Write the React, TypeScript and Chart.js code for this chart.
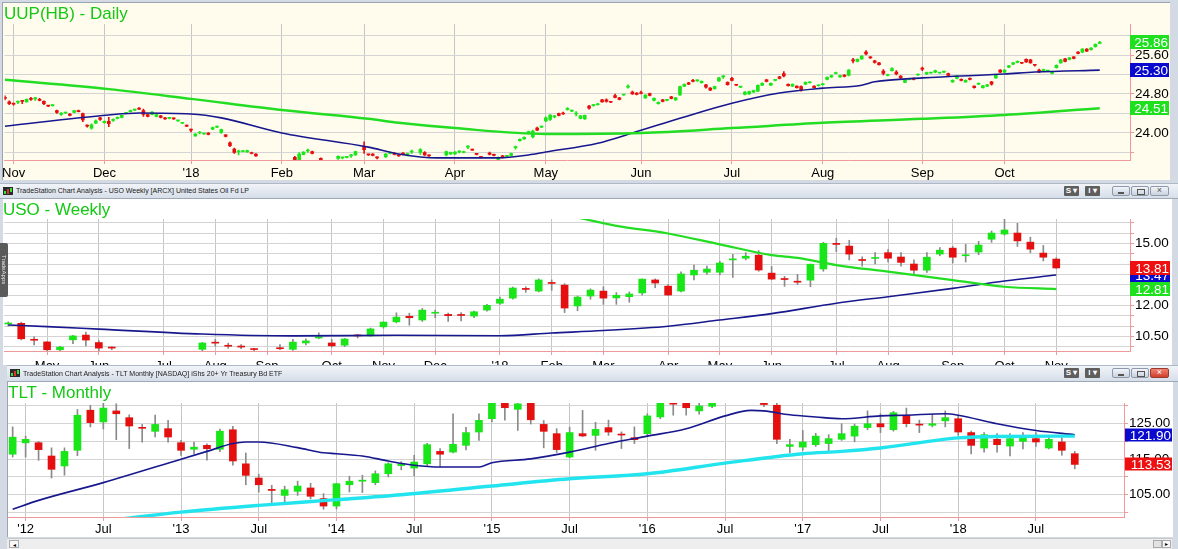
import React, { useEffect, useRef } from 'react';
import { Chart, registerables } from 'chart.js';

Chart.register(...registerables);

const FONT = '"Liberation Sans", Arial, Helvetica, sans-serif';
const UP = '#19E619';
const DN = '#E60F0F';
const AXIS_RED = '#EE9A9A';
const HGRID = '#D4D4D4';
const VGRID = '#C6C6C6';
const TITLE_GREEN = '#14C814';

type Bar = [number, number, number, number, number]; // bar index, open, high, low, close
type Pt = [number, number]; // bar index, value

// ---------------- UUP daily ----------------
const uupBars: Bar[] = [
  [-2, 24.73, 24.76, 24.68, 24.71], [-1, 24.64, 24.66, 24.58, 24.60], [0, 24.60, 24.62, 24.57, 24.59],
  [1, 24.63, 24.66, 24.60, 24.64], [2, 24.66, 24.67, 24.60, 24.65], [3, 24.64, 24.70, 24.63, 24.69],
  [4, 24.71, 24.73, 24.67, 24.69], [5, 24.70, 24.73, 24.67, 24.71], [6, 24.69, 24.71, 24.66, 24.67],
  [7, 24.65, 24.66, 24.58, 24.60], [8, 24.56, 24.57, 24.54, 24.55], [9, 24.56, 24.58, 24.55, 24.57],
  [10, 24.46, 24.47, 24.40, 24.42], [11, 24.38, 24.42, 24.36, 24.41], [12, 24.41, 24.43, 24.40, 24.42],
  [13, 24.39, 24.40, 24.35, 24.36], [14, 24.42, 24.46, 24.41, 24.46], [15, 24.46, 24.47, 24.43, 24.44],
  [16, 24.40, 24.41, 24.23, 24.27], [17, 24.15, 24.17, 24.12, 24.14], [18, 24.10, 24.19, 24.08, 24.17],
  [19, 24.20, 24.27, 24.19, 24.25], [20, 24.31, 24.32, 24.26, 24.28], [21, 24.21, 24.25, 24.20, 24.24],
  [22, 24.24, 24.32, 24.13, 24.19], [23, 24.26, 24.29, 24.24, 24.27], [24, 24.30, 24.33, 24.29, 24.32],
  [25, 24.32, 24.37, 24.31, 24.36], [26, 24.40, 24.42, 24.39, 24.41], [27, 24.44, 24.47, 24.43, 24.46],
  [28, 24.47, 24.49, 24.46, 24.48], [29, 24.50, 24.52, 24.48, 24.49], [30, 24.46, 24.49, 24.34, 24.38],
  [31, 24.38, 24.39, 24.33, 24.34], [32, 24.38, 24.44, 24.37, 24.43], [33, 24.34, 24.39, 24.33, 24.38],
  [34, 24.35, 24.36, 24.31, 24.32], [35, 24.31, 24.32, 24.28, 24.29], [36, 24.30, 24.32, 24.29, 24.31],
  [37, 24.30, 24.31, 24.28, 24.29], [38, 24.25, 24.26, 24.24, 24.26], [39, 24.20, 24.22, 24.19, 24.21],
  [40, 24.15, 24.16, 24.13, 24.14], [41, 24.07, 24.08, 24.02, 24.06], [42, 23.94, 23.99, 23.93, 23.98],
  [43, 24.00, 24.03, 23.98, 24.01], [44, 23.98, 24.00, 23.97, 23.99], [45, 24.00, 24.01, 23.96, 23.97],
  [46, 24.08, 24.12, 24.07, 24.11], [47, 24.12, 24.14, 24.11, 24.13], [48, 24.01, 24.08, 23.99, 24.07],
  [49, 23.96, 23.97, 23.92, 23.93], [50, 23.80, 23.82, 23.72, 23.74], [51, 23.67, 23.69, 23.58, 23.60],
  [52, 23.61, 23.65, 23.55, 23.62], [53, 23.62, 23.64, 23.61, 23.63], [54, 23.61, 23.65, 23.60, 23.64],
  [55, 23.60, 23.61, 23.57, 23.58], [56, 23.57, 23.58, 23.52, 23.53],
  [65, 23.50, 23.52, 23.40, 23.44], [66, 23.44, 23.60, 23.42, 23.57], [67, 23.56, 23.62, 23.55, 23.61],
  [68, 23.63, 23.67, 23.60, 23.64], [69, 23.62, 23.63, 23.57, 23.58], [71, 23.48, 23.49, 23.40, 23.44],
  [75, 23.48, 23.53, 23.46, 23.52], [76, 23.49, 23.50, 23.47, 23.50], [77, 23.50, 23.52, 23.49, 23.51],
  [78, 23.53, 23.56, 23.50, 23.54], [79, 23.55, 23.63, 23.54, 23.62], [81, 23.72, 23.82, 23.58, 23.66],
  [82, 23.56, 23.57, 23.54, 23.55], [83, 23.57, 23.58, 23.53, 23.54], [84, 23.50, 23.51, 23.47, 23.49],
  [86, 23.51, 23.58, 23.50, 23.57], [87, 23.58, 23.60, 23.57, 23.59], [88, 23.59, 23.60, 23.55, 23.56],
  [89, 23.54, 23.55, 23.52, 23.53], [90, 23.59, 23.60, 23.55, 23.56], [91, 23.54, 23.59, 23.53, 23.58],
  [92, 23.61, 23.65, 23.58, 23.62], [94, 23.60, 23.68, 23.56, 23.66], [95, 23.60, 23.62, 23.54, 23.55],
  [96, 23.54, 23.55, 23.52, 23.53], [100, 23.55, 23.63, 23.53, 23.62], [101, 23.57, 23.61, 23.56, 23.60],
  [102, 23.57, 23.62, 23.56, 23.61], [103, 23.61, 23.64, 23.59, 23.62], [104, 23.60, 23.63, 23.59, 23.62],
  [105, 23.71, 23.74, 23.68, 23.72], [106, 23.66, 23.67, 23.64, 23.65], [107, 23.57, 23.58, 23.55, 23.56],
  [108, 23.51, 23.52, 23.49, 23.50], [110, 23.59, 23.61, 23.55, 23.56], [111, 23.56, 23.57, 23.53, 23.54],
  [112, 23.46, 23.51, 23.44, 23.50], [113, 23.53, 23.54, 23.49, 23.50], [114, 23.52, 23.54, 23.51, 23.53],
  [115, 23.54, 23.59, 23.53, 23.58], [116, 23.70, 23.73, 23.67, 23.71], [117, 23.84, 23.88, 23.83, 23.87],
  [118, 23.88, 23.92, 23.87, 23.91], [119, 23.99, 24.04, 23.98, 24.03], [120, 23.92, 24.06, 23.90, 24.04],
  [121, 24.10, 24.12, 24.05, 24.06], [122, 24.12, 24.14, 24.11, 24.13], [123, 24.25, 24.33, 24.23, 24.31],
  [124, 24.28, 24.38, 24.26, 24.37], [125, 24.33, 24.36, 24.31, 24.34], [126, 24.40, 24.41, 24.35, 24.36],
  [127, 24.41, 24.43, 24.38, 24.39], [128, 24.48, 24.52, 24.47, 24.49], [129, 24.45, 24.47, 24.44, 24.46],
  [130, 24.39, 24.44, 24.35, 24.40], [131, 24.30, 24.36, 24.29, 24.35], [132, 24.29, 24.37, 24.28, 24.36],
  [133, 24.55, 24.57, 24.49, 24.51], [134, 24.56, 24.59, 24.55, 24.57], [135, 24.58, 24.61, 24.57, 24.60],
  [136, 24.68, 24.69, 24.63, 24.64], [137, 24.68, 24.70, 24.63, 24.65], [138, 24.64, 24.65, 24.62, 24.63],
  [139, 24.77, 24.80, 24.72, 24.73], [140, 24.72, 24.73, 24.68, 24.69], [141, 24.78, 24.79, 24.77, 24.79],
  [142, 24.94, 24.99, 24.92, 24.96], [143, 24.84, 24.86, 24.79, 24.80], [144, 24.82, 24.83, 24.78, 24.79],
  [145, 24.82, 24.86, 24.80, 24.81], [146, 24.72, 24.79, 24.71, 24.78], [147, 24.81, 24.82, 24.76, 24.77],
  [148, 24.67, 24.72, 24.66, 24.71], [149, 24.60, 24.64, 24.59, 24.63], [150, 24.68, 24.69, 24.64, 24.65],
  [151, 24.67, 24.69, 24.66, 24.68], [152, 24.74, 24.75, 24.70, 24.71], [153, 24.68, 24.73, 24.67, 24.72],
  [154, 24.78, 24.96, 24.77, 24.95], [155, 24.96, 25.01, 24.95, 25.00], [156, 25.03, 25.04, 24.99, 25.00],
  [157, 25.08, 25.10, 25.05, 25.06], [158, 25.07, 25.09, 25.06, 25.08], [159, 25.03, 25.07, 25.02, 25.06],
  [160, 24.99, 25.00, 24.92, 24.94], [161, 24.92, 24.93, 24.87, 24.88], [162, 24.91, 24.96, 24.90, 24.95],
  [163, 25.07, 25.14, 25.06, 25.13], [164, 25.15, 25.18, 25.12, 25.16], [165, 25.04, 25.05, 24.98, 24.99],
  [166, 25.12, 25.14, 25.07, 25.08], [167, 24.99, 25.00, 24.97, 24.98], [168, 24.94, 24.95, 24.93, 24.95],
  [169, 24.79, 24.85, 24.78, 24.84], [170, 24.80, 24.86, 24.79, 24.85], [171, 24.84, 24.88, 24.83, 24.87],
  [172, 24.86, 24.99, 24.85, 24.98], [173, 24.98, 25.03, 24.97, 25.02], [174, 25.09, 25.10, 25.05, 25.06],
  [175, 24.98, 25.03, 24.97, 25.02], [176, 25.08, 25.10, 25.07, 25.09], [177, 25.15, 25.16, 25.11, 25.12],
  [178, 25.22, 25.26, 25.15, 25.17], [179, 25.00, 25.01, 24.96, 24.97], [180, 24.96, 25.01, 24.95, 25.00],
  [181, 24.96, 24.97, 24.92, 24.93], [182, 24.95, 24.97, 24.86, 24.89], [183, 25.00, 25.05, 24.99, 25.04],
  [184, 25.03, 25.05, 25.02, 25.04], [185, 24.96, 24.97, 24.92, 24.93], [186, 24.97, 24.99, 24.96, 24.98],
  [187, 24.99, 25.02, 24.98, 25.01], [188, 25.10, 25.15, 25.09, 25.14], [189, 25.15, 25.19, 25.14, 25.18],
  [190, 25.22, 25.25, 25.21, 25.23], [191, 25.15, 25.19, 25.14, 25.18], [192, 25.19, 25.20, 25.15, 25.16],
  [193, 25.18, 25.30, 25.17, 25.29], [194, 25.49, 25.53, 25.44, 25.48], [195, 25.47, 25.52, 25.46, 25.51],
  [196, 25.52, 25.59, 25.51, 25.58], [197, 25.66, 25.69, 25.60, 25.62], [198, 25.55, 25.57, 25.53, 25.54],
  [199, 25.48, 25.49, 25.43, 25.45], [200, 25.44, 25.45, 25.39, 25.40], [201, 25.27, 25.30, 25.19, 25.22],
  [202, 25.18, 25.21, 25.17, 25.20], [203, 25.28, 25.34, 25.27, 25.32], [204, 25.25, 25.28, 25.19, 25.21],
  [205, 25.17, 25.18, 25.12, 25.13], [206, 25.04, 25.10, 25.03, 25.09], [207, 25.10, 25.12, 25.09, 25.11],
  [208, 25.12, 25.13, 25.09, 25.10], [209, 25.19, 25.21, 25.18, 25.20], [210, 25.32, 25.35, 25.28, 25.31],
  [211, 25.21, 25.25, 25.20, 25.24], [212, 25.23, 25.24, 25.22, 25.24], [213, 25.25, 25.29, 25.24, 25.28],
  [214, 25.23, 25.24, 25.22, 25.24], [215, 25.25, 25.26, 25.24, 25.26], [216, 25.22, 25.23, 25.17, 25.18],
  [217, 25.05, 25.09, 25.04, 25.08], [218, 25.12, 25.18, 25.11, 25.17], [219, 25.10, 25.11, 25.07, 25.08],
  [220, 25.05, 25.09, 25.04, 25.08], [221, 25.12, 25.13, 25.09, 25.10], [222, 24.96, 24.97, 24.92, 24.93],
  [223, 25.00, 25.03, 24.99, 25.01], [224, 24.93, 24.98, 24.92, 24.97], [225, 24.96, 25.00, 24.95, 24.99],
  [226, 25.05, 25.06, 24.98, 25.00], [227, 25.13, 25.20, 25.12, 25.19], [228, 25.29, 25.30, 25.24, 25.25],
  [229, 25.25, 25.30, 25.24, 25.29], [230, 25.35, 25.39, 25.34, 25.38], [231, 25.41, 25.45, 25.40, 25.44],
  [232, 25.45, 25.48, 25.44, 25.46], [233, 25.44, 25.45, 25.42, 25.43], [234, 25.51, 25.52, 25.45, 25.46],
  [235, 25.50, 25.51, 25.43, 25.44], [236, 25.40, 25.41, 25.37, 25.39], [237, 25.29, 25.31, 25.24, 25.25],
  [238, 25.27, 25.31, 25.26, 25.30], [239, 25.27, 25.28, 25.26, 25.28], [240, 25.22, 25.27, 25.21, 25.26],
  [241, 25.34, 25.40, 25.33, 25.39], [242, 25.44, 25.51, 25.43, 25.50], [243, 25.52, 25.53, 25.46, 25.47],
  [244, 25.51, 25.55, 25.50, 25.54], [245, 25.56, 25.57, 25.52, 25.53], [246, 25.66, 25.67, 25.62, 25.63],
  [247, 25.66, 25.73, 25.65, 25.72], [248, 25.72, 25.73, 25.67, 25.68], [249, 25.71, 25.75, 25.70, 25.74],
  [250, 25.77, 25.83, 25.76, 25.82], [251, 25.84, 25.88, 25.83, 25.86],
];
const uupMaSlow: Pt[] = [
  [-2, 25.09], [22, 24.90], [41, 24.70], [62, 24.47], [82, 24.29], [89, 24.21], [102, 24.10], [123, 23.98],
  [145, 24.0], [166, 24.10], [187, 24.21], [210, 24.29], [229, 24.37], [251, 24.51],
];
const uupMaFast: Pt[] = [
  [-2, 24.14], [22, 24.37], [29, 24.41], [41, 24.39], [48, 24.31], [62, 24.0], [82, 23.71], [89, 23.57],
  [98, 23.49], [112, 23.49], [119, 23.55], [123, 23.61], [135, 23.79], [143, 24.0], [155, 24.33],
  [166, 24.61], [177, 24.82], [187, 24.92], [196, 24.98], [199, 25.05], [210, 25.13], [229, 25.21],
  [236, 25.25], [251, 25.29],
];
const uupMonthIdx = [0, 21, 41, 62, 81, 102, 123, 145, 166, 187, 210, 229];
const uupMonthLbl = ['Nov', 'Dec', "'18", 'Feb', 'Mar', 'Apr', 'May', 'Jun', 'Jul', 'Aug', 'Sep', 'Oct'];
const uupYTicks = [23.6, 24.0, 24.4, 24.8, 25.2, 25.6, 26.0];

// ---------------- USO weekly ----------------
const usoBars: Bar[] = [
  [0, 11.10, 11.20, 11.00, 11.14], [1, 11.13, 11.18, 10.33, 10.38], [2, 10.35, 10.47, 10.08, 10.31],
  [3, 10.23, 10.25, 9.80, 9.85], [4, 9.85, 10.02, 9.75, 9.98], [5, 10.33, 10.55, 10.15, 10.52],
  [6, 10.56, 10.71, 10.03, 10.32], [7, 10.20, 10.30, 9.80, 9.93], [8, 9.95, 10.00, 9.85, 9.93],
  [15, 9.87, 10.20, 9.80, 10.18], [16, 10.20, 10.35, 10.02, 10.17], [17, 10.05, 10.17, 9.92, 10.02],
  [18, 10.00, 10.10, 9.90, 9.98], [19, 9.90, 9.92, 9.80, 9.86], [21, 9.94, 10.10, 9.85, 9.90],
  [22, 9.87, 10.35, 9.82, 10.22], [23, 10.18, 10.38, 10.08, 10.28], [24, 10.42, 10.67, 10.38, 10.48],
  [25, 10.18, 10.35, 9.98, 10.04], [26, 10.07, 10.40, 10.00, 10.37], [27, 10.55, 10.60, 10.42, 10.52],
  [28, 10.52, 10.90, 10.50, 10.86], [29, 10.96, 11.20, 10.90, 11.19], [30, 11.20, 11.64, 11.15, 11.43],
  [31, 11.47, 11.62, 11.04, 11.40], [32, 11.29, 11.85, 11.22, 11.77], [33, 11.62, 11.77, 11.40, 11.66],
  [34, 11.56, 11.62, 11.22, 11.50], [35, 11.56, 11.65, 11.25, 11.51], [36, 11.48, 11.72, 11.40, 11.69],
  [37, 11.77, 12.05, 11.72, 12.00], [38, 12.10, 12.40, 12.05, 12.30], [39, 12.35, 12.88, 12.30, 12.84],
  [40, 12.82, 12.90, 12.63, 12.77], [41, 12.69, 13.28, 12.65, 13.23], [42, 13.10, 13.23, 12.73, 13.06],
  [43, 12.98, 13.05, 11.65, 11.87], [44, 11.97, 12.45, 11.74, 12.40], [45, 12.45, 12.80, 12.30, 12.74],
  [46, 12.69, 12.90, 12.05, 12.35], [47, 12.36, 12.62, 12.05, 12.49], [48, 12.42, 12.65, 12.15, 12.55],
  [49, 12.60, 13.28, 12.50, 13.27], [50, 13.23, 13.28, 12.85, 13.08], [51, 12.93, 13.00, 12.48, 12.50],
  [52, 12.69, 13.62, 12.65, 13.52], [53, 13.47, 13.95, 13.23, 13.70], [54, 13.60, 13.90, 13.50, 13.76],
  [55, 13.60, 14.13, 13.47, 14.05], [56, 14.20, 14.47, 13.35, 14.25], [57, 14.28, 14.55, 14.20, 14.38],
  [58, 14.43, 14.65, 13.65, 13.71], [59, 13.56, 13.88, 13.25, 13.27], [60, 13.30, 13.40, 12.92, 13.25],
  [61, 13.17, 13.50, 13.00, 13.12], [62, 13.22, 14.00, 12.90, 13.99], [63, 13.76, 15.05, 13.65, 15.00],
  [64, 15.00, 15.25, 14.60, 14.95], [65, 14.87, 15.15, 14.20, 14.48], [66, 14.22, 14.35, 13.90, 14.17],
  [67, 14.27, 14.55, 14.00, 14.30], [68, 14.55, 14.70, 14.10, 14.28], [69, 14.34, 14.55, 13.90, 14.08],
  [70, 14.00, 14.20, 13.47, 13.70], [71, 13.70, 14.55, 13.60, 14.33], [72, 14.48, 14.80, 14.40, 14.67],
  [73, 14.77, 14.85, 14.05, 14.33], [74, 14.40, 14.95, 14.10, 14.45], [75, 14.58, 15.10, 14.45, 14.92],
  [76, 15.20, 15.60, 15.05, 15.50], [77, 15.45, 16.20, 15.40, 15.65], [78, 15.50, 15.97, 14.85, 15.12],
  [79, 15.06, 15.30, 14.55, 14.72], [80, 14.53, 14.90, 14.15, 14.33], [81, 14.24, 14.30, 13.78, 13.81],
];
const usoMaSlow: Pt[] = [
  [0, 11.05], [3, 10.97], [7, 10.85], [15, 10.61], [22, 10.52], [30, 10.55], [38, 10.53], [42, 10.66],
  [46, 10.78], [51, 10.99], [55, 11.29], [59, 11.6], [64, 12.1], [68, 12.42], [73, 12.82], [77, 13.18],
  [81, 13.47],
];
const usoMaFast: Pt[] = [
  [44, 16.25], [47, 15.85], [51, 15.48], [55, 14.95], [59, 14.43], [61, 14.3], [64, 13.95], [68, 13.63],
  [73, 13.22], [77, 12.9], [81, 12.79],
];
const usoMonthIdx = [3, 7, 12, 16, 20, 25, 29, 33, 38, 42, 46, 51, 55, 59, 64, 68, 73, 77, 81];
const usoMonthLbl = ['May', 'Jun', 'Jul', 'Aug', 'Sep', 'Oct', 'Nov', 'Dec', "'18", 'Feb', 'Mar', 'Apr', 'May', 'Jun', 'Jul', 'Aug', 'Sep', 'Oct', 'Nov'];
const usoYTicks = [10.0, 10.5, 11.0, 11.5, 12.0, 12.5, 13.0, 13.5, 14.0, 14.5, 15.0, 15.5, 16.0];

// ---------------- TLT monthly ----------------
const tltBars: Bar[] = [
  [0, 116.4, 124.1, 115.6, 121.2], [1, 119.6, 121.5, 115.6, 120.6], [2, 119.65, 120.0, 114.7, 117.7],
  [3, 115.9, 118.2, 109.7, 112.15], [4, 113.1, 118.2, 110.5, 117.2], [5, 117.5, 129.0, 116.0, 127.4],
  [6, 128.8, 130.2, 124.1, 125.3], [7, 125.5, 130.8, 123.5, 129.4], [8, 128.6, 130.6, 120.5, 127.8],
  [9, 126.7, 127.5, 118.0, 124.35], [10, 123.9, 124.8, 119.8, 123.7], [11, 122.85, 127.4, 121.25, 124.8],
  [12, 123.6, 125.95, 119.8, 121.25], [13, 119.65, 120.3, 116.1, 117.5], [14, 117.8, 119.8, 116.5, 118.4],
  [15, 118.9, 119.3, 114.7, 117.95], [16, 117.8, 123.5, 117.1, 122.9], [17, 123.3, 124.25, 113.3, 114.5],
  [18, 113.7, 116.75, 107.8, 110.45], [19, 109.7, 110.75, 105.75, 107.8], [20, 106.5, 107.65, 102.5, 106.2],
  [21, 104.8, 107.4, 102.9, 106.4], [22, 105.95, 108.8, 104.8, 107.45], [23, 106.9, 108.2, 103.8, 104.55],
  [24, 103.9, 105.3, 100.9, 101.8], [25, 101.8, 108.2, 101.0, 108.1], [26, 107.8, 110.2, 105.75, 108.8],
  [27, 108.8, 110.5, 105.6, 109.1], [28, 108.4, 111.7, 107.8, 110.9], [29, 110.9, 114.0, 110.0, 113.7],
  [30, 113.2, 114.3, 112.0, 113.7], [31, 112.5, 116.1, 110.3, 114.2], [32, 113.7, 119.5, 113.0, 119.1],
  [33, 117.2, 118.0, 112.8, 116.4], [34, 117.0, 127.8, 116.8, 119.2], [35, 118.9, 124.0, 117.6, 122.5],
  [36, 122.65, 127.8, 120.3, 125.95], [37, 126.4, 139.0, 125.5, 137.5], [38, 133.0, 136.0, 126.0, 129.5],
  [39, 129.05, 131.2, 123.1, 130.6], [40, 131.5, 132.0, 124.9, 126.1], [41, 124.8, 125.9, 118.2, 122.85],
  [42, 122.2, 123.6, 116.9, 117.7], [43, 115.6, 124.0, 115.4, 122.5], [44, 122.2, 128.75, 121.3, 121.55],
  [45, 121.7, 125.4, 117.5, 123.4], [46, 123.9, 126.0, 121.7, 122.65], [47, 122.0, 122.7, 118.0, 121.8],
  [48, 121.05, 124.1, 119.4, 120.5], [49, 122.2, 127.8, 121.5, 127.2], [50, 126.9, 133.0, 126.4, 131.5],
  [51, 131.3, 132.5, 127.4, 130.5], [52, 131.5, 132.5, 127.4, 129.5], [53, 128.6, 131.0, 127.7, 130.0],
  [54, 129.9, 140.0, 129.5, 139.0], [55, 139.0, 143.0, 138.0, 141.0], [56, 141.0, 142.0, 138.0, 139.5],
  [57, 139.5, 140.0, 135.0, 136.0], [58, 136.0, 137.0, 129.8, 130.4], [59, 130.2, 131.5, 119.4, 120.6],
  [60, 118.6, 120.6, 116.8, 119.1], [61, 118.4, 123.1, 117.5, 119.85], [62, 119.1, 122.3, 118.6, 121.5],
  [63, 119.4, 121.9, 117.2, 120.8], [64, 120.6, 125.0, 120.3, 122.2], [65, 121.5, 124.9, 119.9, 124.3],
  [66, 123.9, 128.6, 123.3, 125.0], [67, 125.0, 127.8, 122.5, 124.1], [68, 123.3, 128.5, 122.9, 128.1],
  [69, 127.4, 129.4, 124.1, 125.0], [70, 124.85, 126.0, 122.5, 124.6], [71, 124.55, 127.6, 124.1, 125.0],
  [72, 125.8, 128.6, 124.1, 126.7], [73, 126.4, 127.4, 121.7, 122.65], [74, 122.5, 122.9, 116.5, 118.9],
  [75, 118.15, 122.5, 117.0, 121.9], [76, 120.6, 122.2, 117.0, 119.1], [77, 118.7, 122.2, 115.9, 120.8],
  [78, 120.0, 122.5, 117.9, 121.0], [79, 120.8, 122.5, 118.6, 119.85], [80, 118.15, 121.5, 117.9, 120.6],
  [81, 119.85, 121.1, 116.1, 117.5], [82, 116.55, 117.2, 112.3, 113.53],
];
const tltMaBlue: Pt[] = [
  [0, 100.9], [2, 103.4], [7, 108.4], [13, 115.0], [15, 117.2], [17, 119.4], [18, 119.85], [19, 119.85],
  [22, 118.25], [24, 116.8], [25, 116.55], [27, 115.9], [29, 114.5], [31, 113.3], [33, 112.8], [36, 112.8],
  [37, 114.0], [40, 115.1], [43, 117.0], [46, 119.4], [49, 121.5], [52, 123.6], [55, 127.2], [57, 128.75],
  [58, 128.6], [60, 127.5], [62, 126.9], [64, 126.4], [67, 127.2], [69, 127.4], [72, 127.8], [73, 127.4],
  [76, 125.0], [79, 123.1], [82, 121.9],
];
const tltMaCyan: Pt[] = [
  [8, 98.0], [13, 100.1], [19, 102.0], [25, 103.6], [30, 105.0], [37, 107.45], [43, 109.5], [49, 110.9],
  [55, 113.9], [61, 116.55], [64, 117.2], [67, 118.15], [73, 121.0], [76, 121.4], [82, 121.5],
];
const tltMonthIdx = [1, 7, 13, 19, 25, 31, 37, 43, 49, 55, 61, 67, 73, 79];
const tltMonthLbl = ["'12", 'Jul', "'13", 'Jul', "'14", 'Jul', "'15", 'Jul', "'16", 'Jul', "'17", 'Jul', "'18", 'Jul'];
const tltYTicks = [100, 105, 110, 115, 120, 125, 130];

interface Box { v: number; text: string; bg: string }
interface PanelCfg {
  width: number; height: number; padLeft: number; padTop: number; yWidth: number; xHeight: number;
  xMin: number; xMax: number; yMin: number; yMax: number;
  bars: Bar[]; bodyWidth: number; wickColor: string | null;
  lines: { pts: Pt[]; color: string; width: number }[];
  xTicks: number[]; xLabels: string[]; xPad: number;
  yTicks: number[]; yLabelBase: number; yLabelStep: number;
  boxes: Box[]; boxX0: number; boxX1: number; boxH: number;
}

const GREEN_MA = '#22DD22';
const BLUE_MA = '#18188E';

const panel1: PanelCfg = {
  width: 1170, height: 183, padLeft: 4, padTop: 24, yWidth: 40, xHeight: 23,
  xMin: -2.1, xMax: 258, yMin: 23.446, yMax: 26.236,
  bars: uupBars, bodyWidth: 3, wickColor: null,
  lines: [{ pts: uupMaSlow, color: GREEN_MA, width: 2.5 }, { pts: uupMaFast, color: BLUE_MA, width: 1.6 }],
  xTicks: uupMonthIdx, xLabels: uupMonthLbl, xPad: 2,
  yTicks: uupYTicks, yLabelBase: 24.0, yLabelStep: 0.8,
  boxes: [
    { v: 25.86, text: '25.86', bg: '#1EE01E' },
    { v: 25.30, text: '25.30', bg: '#0A0ACF' },
    { v: 24.51, text: '24.51', bg: '#1EE01E' },
  ],
  boxX0: 1130, boxX1: 1169, boxH: 14,
};

const panel2: PanelCfg = {
  width: 1170, height: 166, padLeft: 4, padTop: 20, yWidth: 40, xHeight: 14,
  xMin: -0.33, xMax: 86.7, yMin: 9.79, yMax: 16.18,
  bars: usoBars, bodyWidth: 7, wickColor: '#8A8A8A',
  lines: [{ pts: usoMaFast, color: GREEN_MA, width: 2.2 }, { pts: usoMaSlow, color: BLUE_MA, width: 1.6 }],
  xTicks: usoMonthIdx, xLabels: usoMonthLbl, xPad: 4,
  yTicks: usoYTicks, yLabelBase: 10.5, yLabelStep: 1.5,
  boxes: [
    { v: 13.47, text: '13.47', bg: '#0A0ACF' },
    { v: 13.81, text: '13.81', bg: '#EE1010' },
    { v: 12.81, text: '12.81', bg: '#1EE01E' },
  ],
  boxX0: 1130, boxX1: 1170, boxH: 14,
};

const panel3: PanelCfg = {
  width: 1173, height: 155, padLeft: 8, padTop: 21, yWidth: 49, xHeight: 20,
  xMin: -0.36, xMax: 85.8, yMin: 98.72, yMax: 130.83,
  bars: tltBars, bodyWidth: 7, wickColor: '#8A8A8A',
  lines: [{ pts: tltMaCyan, color: '#22E4EE', width: 3.4 }, { pts: tltMaBlue, color: BLUE_MA, width: 1.6 }],
  xTicks: tltMonthIdx, xLabels: tltMonthLbl, xPad: 1,
  yTicks: tltYTicks, yLabelBase: 105, yLabelStep: 10,
  boxes: [
    { v: 121.90, text: '121.90', bg: '#0A0ACF' },
    { v: 113.53, text: '113.53', bg: '#EE1010' },
  ],
  boxX0: 1125, boxX1: 1172, boxH: 13,
};

function buildChart(canvas: HTMLCanvasElement, c: PanelCfg) {
  const colors = c.bars.map((b) => (b[4] >= b[1] ? UP : DN));
  const boxPlugin = {
    id: 'valueBoxes',
    afterDraw(chart: any) {
      const ctx = chart.ctx;
      const ys = chart.scales.y;
      ctx.save();
      ctx.font = `13.5px ${FONT}`;
      ctx.textAlign = 'right';
      ctx.textBaseline = 'middle';
      for (const b of c.boxes) {
        const py = Math.round(ys.getPixelForValue(b.v));
        ctx.fillStyle = b.bg;
        ctx.fillRect(c.boxX0, py - c.boxH / 2, c.boxX1 - c.boxX0, c.boxH);
        ctx.fillStyle = '#FFFFFF';
        ctx.fillText(b.text, c.boxX1 - 1, py + 1);
      }
      ctx.restore();
    },
  };
  const isLabel = (v: number) => {
    const r = (v - c.yLabelBase) / c.yLabelStep;
    return Math.abs(r - Math.round(r)) < 1e-6;
  };
  const lineSets = c.lines.map((l) => ({
    type: 'line',
    data: l.pts.map((p) => ({ x: p[0], y: p[1] })),
    borderColor: l.color,
    borderWidth: l.width,
    pointRadius: 0,
    cubicInterpolationMode: 'monotone',
    order: 0,
  }));
  return new Chart(canvas, {
    type: 'bar',
    data: {
      datasets: [
        ...lineSets,
        {
          type: 'bar',
          data: c.bars.map((b) => ({ x: b[0], y: [b[3], b[2]] })),
          backgroundColor: c.wickColor ?? colors,
          barThickness: 1,
          grouped: false,
          order: 2,
        },
        {
          type: 'bar',
          data: c.bars.map((b) => ({ x: b[0], y: [Math.min(b[1], b[4]), Math.max(b[1], b[4])] })),
          backgroundColor: colors,
          barThickness: c.bodyWidth,
          grouped: false,
          minBarLength: 1,
          order: 1,
        },
      ],
    } as any,
    options: {
      animation: false,
      responsive: false,
      devicePixelRatio: 1,
      events: [],
      layout: { padding: { left: c.padLeft, top: c.padTop, right: 0, bottom: 0 } },
      plugins: { legend: { display: false }, tooltip: { enabled: false }, title: { display: false } },
      scales: {
        x: {
          type: 'linear',
          min: c.xMin,
          max: c.xMax,
          offset: false,
          bounds: 'data',
          grid: { offset: false, color: VGRID, lineWidth: 1, drawTicks: true, tickLength: 4, tickColor: AXIS_RED },
          border: { display: true, color: AXIS_RED, width: 1 },
          ticks: {
            autoSkip: false,
            maxRotation: 0,
            padding: c.xPad,
            color: '#000',
            font: { family: FONT, size: 13 },
            callback: (v: any) => {
              const k = c.xTicks.indexOf(Number(v));
              return k >= 0 ? c.xLabels[k] : '';
            },
          },
          afterBuildTicks: (s: any) => { s.ticks = c.xTicks.map((v) => ({ value: v })); },
          afterFit: (s: any) => { s.height = c.xHeight; },
        },
        y: {
          type: 'linear',
          position: 'right',
          min: c.yMin,
          max: c.yMax,
          bounds: 'data',
          grid: { color: HGRID, lineWidth: 1, drawTicks: true, tickLength: 4, tickColor: AXIS_RED },
          border: { display: true, color: AXIS_RED, width: 1 },
          ticks: {
            autoSkip: false,
            padding: 1,
            color: '#000',
            font: { family: FONT, size: 13.5 },
            callback: (v: any) => (isLabel(Number(v)) ? Number(v).toFixed(2) : ''),
          },
          afterBuildTicks: (s: any) => { s.ticks = c.yTicks.map((v) => ({ value: v })); },
          afterFit: (s: any) => { s.width = c.yWidth; },
        },
      },
    } as any,
    plugins: [boxPlugin],
  });
}

const abs = (o: any) => ({ position: 'absolute', ...o } as React.CSSProperties);

function WinButtons({ top, redClose }: { top: number; redClose?: boolean }) {
  const dark = { background: '#5E5E5E', color: '#fff', fontSize: 8, fontWeight: 700, lineHeight: '10px', textAlign: 'center' as const, borderRadius: 1 };
  const light = { background: 'linear-gradient(#F2F5F9,#C9D2DE)', border: '1px solid #8D99AA', borderRadius: 2, boxSizing: 'border-box' as const };
  return (
    <>
      <div style={abs({ left: 1064, top, width: 15, height: 10, ...dark })}>S ▾</div>
      <div style={abs({ left: 1085, top, width: 15, height: 10, ...dark })}>I ▾</div>
      <div style={abs({ left: 1112, top, width: 18, height: 10, ...light })}>
        <div style={abs({ left: 5, top: 5, width: 6, height: 2, background: '#555' })} />
      </div>
      <div style={abs({ left: 1131, top, width: 18, height: 10, ...light })}>
        <div style={abs({ left: 5, top: 2, width: 6, height: 4, border: '1px solid #555' })} />
      </div>
      <div style={abs({ left: 1150, top, width: 19, height: 10, ...light, ...(redClose ? { background: 'linear-gradient(#F08070,#D0402E)', border: '1px solid #9A3A30' } : {}) })}>
        <div style={abs({ left: 0, top: -2, width: 17, textAlign: 'center', fontSize: 9, color: redClose ? '#fff' : '#555' })}>×</div>
      </div>
    </>
  );
}

function TitleBar({ left, top, height, text }: { left: number; top: number; height: number; text: string }) {
  return (
    <div style={abs({ left, top, width: 1178 - left, height, background: 'linear-gradient(#F1F4F8,#D6DEE9)', borderTop: '1px solid #AEB8C6', borderBottom: '1px solid #9DA8B8', boxSizing: 'border-box' })}>
      <div style={abs({ left: 3, top: 3, width: 10, height: 8, background: '#2B2B2B' })}>
        <div style={abs({ left: 1, top: 4, width: 2, height: 3, background: '#2EE62E' })} />
        <div style={abs({ left: 4, top: 2, width: 2, height: 5, background: '#E63030' })} />
        <div style={abs({ left: 7, top: 1, width: 2, height: 4, background: '#2EE62E' })} />
      </div>
      <div style={abs({ left: 16, top: 0, height: height - 2, lineHeight: `${height - 2}px`, fontSize: 7, color: '#1A1A1A', whiteSpace: 'nowrap', fontFamily: FONT })}>{text}</div>
    </div>
  );
}

export default function App() {
  const r1 = useRef<HTMLCanvasElement>(null);
  const r2 = useRef<HTMLCanvasElement>(null);
  const r3 = useRef<HTMLCanvasElement>(null);

  useEffect(() => {
    const charts = [
      buildChart(r1.current as HTMLCanvasElement, panel1),
      buildChart(r2.current as HTMLCanvasElement, panel2),
      buildChart(r3.current as HTMLCanvasElement, panel3),
    ];
    return () => charts.forEach((ch) => ch.destroy());
  }, []);

  const titleStyle = (left: number, top: number) =>
    abs({ left, top, fontSize: 17, lineHeight: '17px', color: TITLE_GREEN, fontFamily: FONT, whiteSpace: 'nowrap' });

  return (
    <div style={{ position: 'fixed', left: 0, top: 0, width: 1178, height: 549, background: '#D3DAE4', overflow: 'hidden', fontFamily: FONT }}>
      {/* Panel 1: UUP daily */}
      <div style={abs({ left: 2, top: 2, width: 1168, height: 178, background: '#FFFCEE', borderLeft: '1px solid #9AA5B4', borderTop: '1px solid #9AA5B4', boxSizing: 'border-box' })} />
      <canvas ref={r1} width={panel1.width} height={panel1.height} style={abs({ left: 0, top: 0 })} />
      <div style={titleStyle(4, 5)}>UUP(HB) - Daily</div>

      {/* Panel 2: USO weekly */}
      <TitleBar left={0} top={183} height={16} text="TradeStation Chart Analysis - USO Weekly [ARCX] United States Oil Fd LP" />
      <WinButtons top={186} />
      <div style={abs({ left: 3, top: 199, width: 1169, height: 166, background: '#FFFFFF' })} />
      <canvas ref={r2} width={panel2.width} height={panel2.height} style={abs({ left: 0, top: 199 })} />
      <div style={titleStyle(3, 201)}>USO - Weekly</div>
      <div style={abs({ left: 0, top: 243, width: 8, height: 54, background: '#5A5A5A', borderRadius: '0 2px 2px 0' })}>
        <div style={abs({ left: 0, top: 0, width: 8, height: 54, writingMode: 'vertical-rl', fontSize: 6, lineHeight: '8px', color: '#E8E8E8', textAlign: 'center', overflow: 'hidden' })}>TradeApps</div>
      </div>

      {/* Panel 3: TLT monthly */}
      <TitleBar left={7} top={365} height={17} text="TradeStation Chart Analysis - TLT Monthly [NASDAQ] iShs 20+ Yr Treasury Bd ETF" />
      <WinButtons top={368} redClose />
      <div style={abs({ left: 7, top: 382, width: 1166, height: 155, background: '#FFFFFF', borderLeft: '1px solid #9AA5B4', boxSizing: 'border-box' })} />
      <canvas ref={r3} width={panel3.width} height={panel3.height} style={abs({ left: 0, top: 382 })} />
      <div style={titleStyle(8, 384)}>TLT - Monthly</div>

      {/* scrollbar */}
      <div style={abs({ left: 7, top: 538, width: 1165, height: 11, background: '#EEEEEE', borderTop: '1px solid #C8C8C8', boxSizing: 'border-box' })}>
        <div style={abs({ left: 2, top: 1, width: 10, height: 8, background: '#F8F8F8', border: '1px solid #AAA', fontSize: 6, lineHeight: '8px', textAlign: 'center', boxSizing: 'border-box' })}>◂</div>
        <div style={abs({ left: 1146, top: 1, width: 9, height: 8, background: '#E2E2E2', border: '1px solid #AAA', boxSizing: 'border-box' })} />
        <div style={abs({ left: 1155, top: 1, width: 9, height: 8, background: '#F8F8F8', border: '1px solid #AAA', fontSize: 6, lineHeight: '7px', textAlign: 'center', boxSizing: 'border-box' })}>▸</div>
      </div>
    </div>
  );
}
